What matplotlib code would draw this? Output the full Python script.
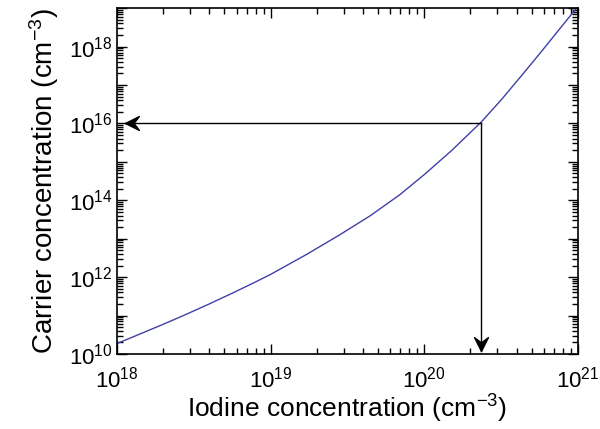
import matplotlib

matplotlib.use("Agg")
import matplotlib.pyplot as plt
import numpy as np
from matplotlib.path import Path
from matplotlib.ticker import FuncFormatter, LogLocator, NullFormatter

plt.rcParams["font.family"] = ["Liberation Sans", "DejaVu Sans"]
plt.rcParams["mathtext.fontset"] = "custom"
plt.rcParams["mathtext.rm"] = "Liberation Sans"
plt.rcParams["mathtext.it"] = "Liberation Sans"

# curve (log10 values)
iodine_log = [18.0, 18.15, 18.3, 18.45, 18.6, 18.75, 18.9, 19.0, 19.23, 19.45,
              19.65, 19.84, 20.01, 20.18, 20.37, 20.505, 20.635, 20.765, 20.894, 21.0]
carrier_log = [10.27, 10.52, 10.77, 11.03, 11.30, 11.58, 11.87, 12.07, 12.58, 13.10,
               13.60, 14.14, 14.70, 15.30, 16.03, 16.63, 17.25, 17.88, 18.52, 19.04]

# operating point marked by the arrows
marked_iodine = 2.35e20
marked_carrier = 1e16

x_range = (1e18, 1e21)
y_range = (1e10, 1e19)


def stealth(angle_deg: float) -> Path:
    # barbed arrow head, tip at the origin
    verts = np.array([[0.0, 0.0], [-1.0, 0.5], [-0.62, 0.0], [-1.0, -0.5], [0.0, 0.0]])
    a = np.deg2rad(angle_deg)
    rot = np.array([[np.cos(a), -np.sin(a)], [np.sin(a), np.cos(a)]])
    verts = verts @ rot.T
    codes = [Path.MOVETO, Path.LINETO, Path.LINETO, Path.LINETO, Path.CLOSEPOLY]
    return Path(verts, codes)


def main() -> int:
    fig = plt.figure(figsize=(6.0, 4.29), dpi=100)
    ax = fig.add_axes([0.195, 0.175, 0.768, 0.806])

    ax.plot(10 ** np.array(iodine_log), 10 ** np.array(carrier_log), color="#4040a8", lw=1.0)

    tip_x = x_range[0] * 1.13
    tip_y = y_range[0] * 1.2
    ax.plot([marked_iodine, tip_x], [marked_carrier, marked_carrier], color="black", lw=1.0)
    ax.plot([marked_iodine, marked_iodine], [marked_carrier, tip_y], color="black", lw=1.0)
    ax.plot([tip_x], [marked_carrier], marker=stealth(180), markersize=20, color="black", lw=0)
    ax.plot([marked_iodine], [tip_y], marker=stealth(-90), markersize=20, color="black", lw=0)

    ax.set_xscale("log")
    ax.set_yscale("log")
    ax.set_xlim(*x_range)
    ax.set_ylim(*y_range)

    ax.xaxis.set_major_locator(LogLocator(base=10, numticks=10))
    ax.xaxis.set_minor_locator(LogLocator(base=10, subs=np.arange(2, 10), numticks=10))
    ax.yaxis.set_major_locator(LogLocator(base=10, numticks=20))
    ax.yaxis.set_minor_locator(LogLocator(base=10, subs=np.arange(2, 10), numticks=20))
    ax.xaxis.set_minor_formatter(NullFormatter())
    ax.yaxis.set_minor_formatter(NullFormatter())

    def exp_label(v, _pos):
        e = int(round(np.log10(v)))
        return rf"$10^{{{e}}}$"

    def even_label(v, _pos):
        e = int(round(np.log10(v)))
        return rf"$10^{{{e}}}$" if e % 2 == 0 else ""

    ax.xaxis.set_major_formatter(FuncFormatter(exp_label))
    ax.yaxis.set_major_formatter(FuncFormatter(even_label))

    ax.tick_params(which="both", direction="in", top=True, right=True, width=1.0, labelsize=16)
    ax.tick_params(which="major", length=7)
    ax.tick_params(which="minor", length=4)
    ax.tick_params(axis="x", pad=9)
    ax.tick_params(axis="y", pad=3)
    for spine in ax.spines.values():
        spine.set_linewidth(1.2)

    ax.set_xlabel("Iodine concentration (cm$^{-3}$)", fontsize=19, labelpad=0)
    ax.set_ylabel("Carrier concentration (cm$^{-3}$)", fontsize=20, labelpad=6)

    fig.savefig("out.png", dpi=100)
    plt.close(fig)
    return 0


if __name__ == "__main__":
    raise SystemExit(main())
